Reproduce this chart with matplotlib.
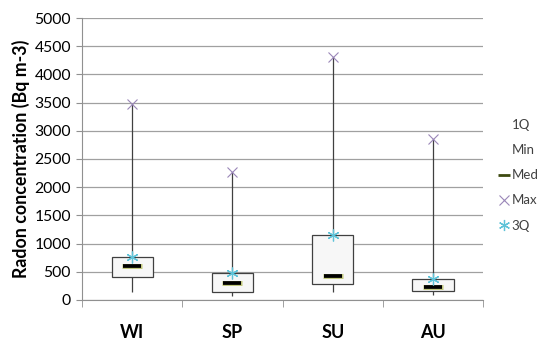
import matplotlib.pyplot as plt
from matplotlib.lines import Line2D

seasons = ['WI', 'SP', 'SU', 'AU']
q1 = [413, 137, 284, 160]
mins = [147, 71, 147, 89]
med = [608, 296, 426, 225]
maxs = [3475, 2275, 4315, 2850]
q3 = [770, 473, 1150, 367]

plt.rcParams['font.family'] = ['Lato', 'DejaVu Sans']

fig = plt.figure(figsize=(5.41, 3.43), dpi=100)
ax = fig.add_axes([0.1516, 0.1254, 0.7414, 0.8221])

x = list(range(1, len(seasons) + 1))
box_h = [b - a for a, b in zip(q1, q3)]

# whiskers, boxes, markers
ax.vlines(x, mins, maxs, color='#404040', linewidth=0.9, zorder=2)
ax.bar(x, box_h, bottom=q1, width=0.41, color='#f7f7f7', edgecolor='#404040',
       linewidth=0.9, zorder=3)
ax.plot(x, med, linestyle='none', marker='_', markersize=14, mew=3.6,
        color='#c2c97e', zorder=4)
ax.plot(x, med, linestyle='none', marker='_', markersize=13.2, mew=2.7,
        color='black', zorder=5)
ax.plot(x, maxs, linestyle='none', marker='x', markersize=7.5, mew=0.8,
        color='#9a86b8', zorder=5)
ax.plot(x, q3, linestyle='none', marker=(6, 2, 0), markersize=8.5, mew=0.9,
        color='#5fc3d8', zorder=6)

ax.set_xlim(0.5, 4.5)
ax.set_ylim(0, 5000)
ax.set_yticks(range(0, 5001, 500))
ax.yaxis.grid(True, color='#a0a0a0', linewidth=0.9)
ax.set_axisbelow(True)
ax.tick_params(axis='y', labelsize=11.3, length=4, color='#909090', pad=4)

ax.set_xticks(x)
ax.set_xticklabels(seasons, fontsize=13, fontweight='bold')
ax.set_xticks([0.5, 1.5, 2.5, 3.5, 4.5], minor=True)
ax.tick_params(axis='x', which='major', length=0, pad=17)
ax.tick_params(axis='x', which='minor', length=5, color='#909090')

for s in ['top', 'right']:
    ax.spines[s].set_visible(False)
for s in ['left', 'bottom']:
    ax.spines[s].set_color('#909090')

ax.set_ylabel('Radon concentration (Bq m-3)', fontsize=12.8, fontweight='bold',
              labelpad=3)

handles = [
    Line2D([], [], linestyle='none'),
    Line2D([], [], linestyle='none'),
    Line2D([], [], linestyle='none', marker='_', markersize=8, mew=2.0, color='#3d4a10'),
    Line2D([], [], linestyle='none', marker='x', markersize=7, mew=0.8, color='#9a86b8'),
    Line2D([], [], linestyle='none', marker=(6, 2, 0), markersize=8, mew=0.9, color='#5fc3d8'),
]
leg = ax.legend(handles, ['1Q', 'Min', 'Med', 'Max', '3Q'], loc='upper left',
                bbox_to_anchor=(1.02, 0.675), frameon=False, fontsize=9.5,
                handlelength=0.6, handletextpad=0.25, labelspacing=1.0,
                borderaxespad=0.3)
for t in leg.get_texts():
    t.set_color('#404040')

fig.savefig('out.png', dpi=100)
